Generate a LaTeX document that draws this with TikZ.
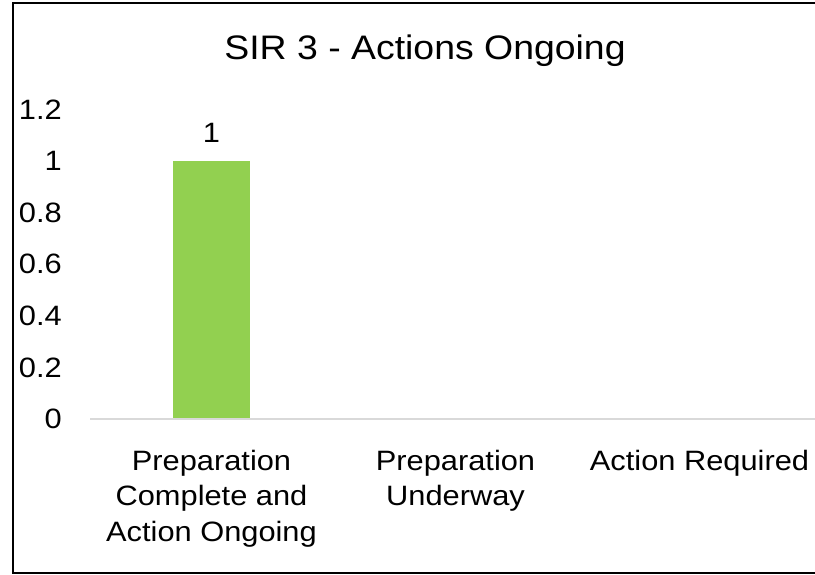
\documentclass[tikz,border=0pt]{standalone}
\usepackage{fontspec}
\setmainfont[FakeStretch=1.1]{Liberation Sans}
\definecolor{bargreen}{HTML}{92D050}
\definecolor{axisgray}{HTML}{D9D9D9}
\tikzset{
  ticklbl/.style={anchor=east, inner sep=0pt, font=\fontsize{28}{34}\selectfont},
  catlbl/.style={anchor=north, inner sep=0pt, align=center, font=\fontsize{28}{35.5}\selectfont},
  ttl/.style={anchor=base, inner sep=0pt, font=\fontsize{34}{40}\selectfont},
  datalbl/.style={anchor=base, inner sep=0pt, font=\fontsize{28}{34}\selectfont},
}
\begin{document}
\begin{tikzpicture}[x=1pt,y=-1pt]
\useasboundingbox (0,0) rectangle (815,575);
\clip (0,0) rectangle (815,575);
\fill[white] (0,0) rectangle (815,575);
\draw[black, line width=2pt] (13,3) rectangle (840,573);
\node[ttl] (title) at (425,60) {SIR 3 - Actions Ongoing};
\foreach \v/\lab [count=\i] in {0/0,1/0.2,2/0.4,3/0.6,4/0.8,5/1,6/1.2}{
  \node[ticklbl] (t\i) at (62,{419-\v*51.6}) {\lab};
}
\fill[bargreen] (173,161) rectangle (250,419);
\node[datalbl] (d1) at (211.5,143) {1};
\coordinate (axL) at (90,419);
\coordinate (axR) at (830,419);
\draw[axisgray, line width=2pt] (axL) -- (axR);
\node[catlbl] (c1) at (211.5,450) {Preparation\\Complete and\\Action Ongoing};
\node[catlbl] (c2) at (455.5,450) {Preparation\\Underway};
\node[catlbl] (c3) at (699.5,450) {Action Required};
\end{tikzpicture}
\end{document}
